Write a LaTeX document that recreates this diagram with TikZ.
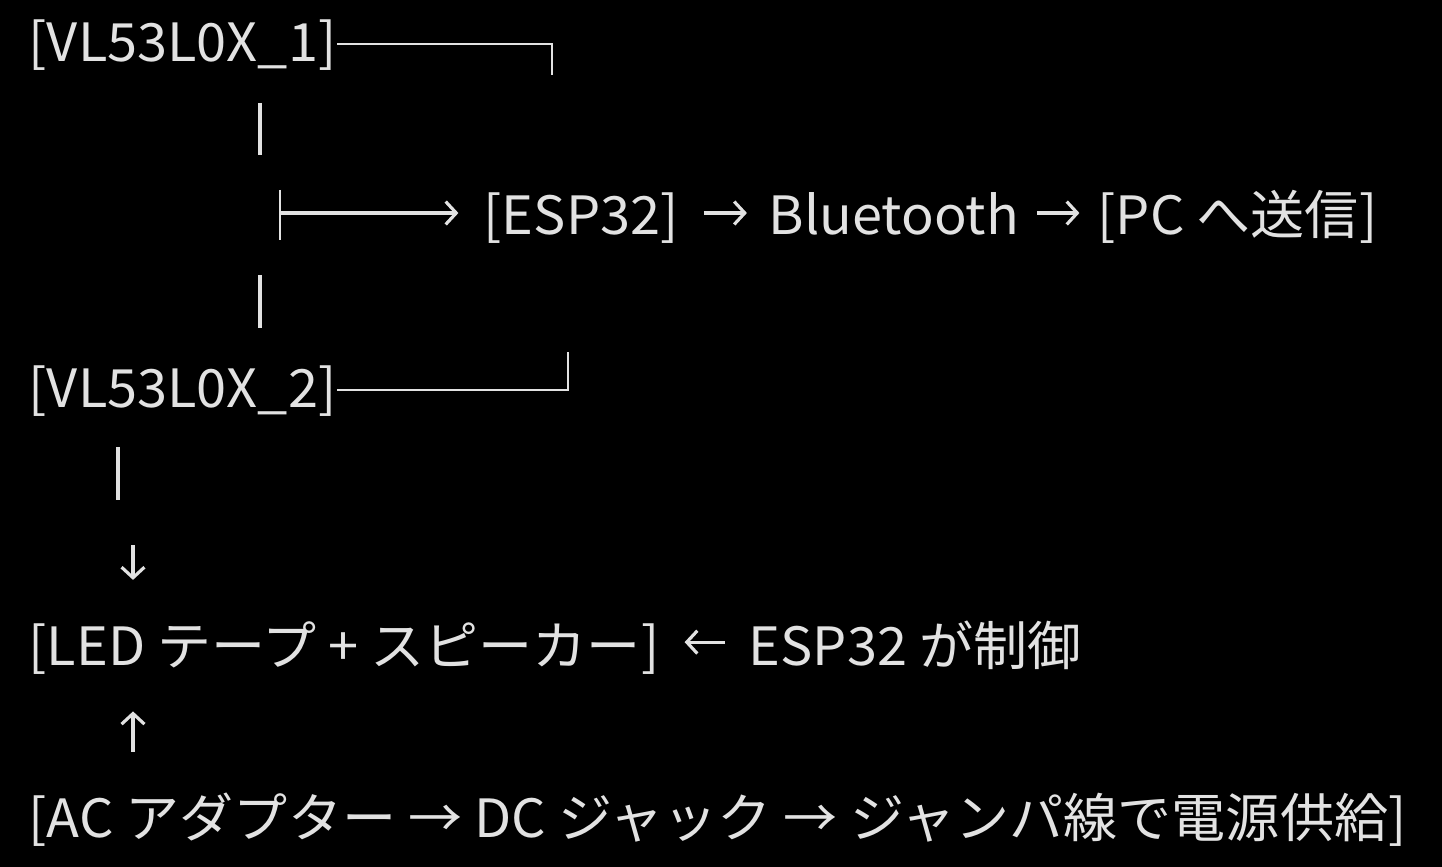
\documentclass[tikz,border=0pt]{standalone}
\usepackage{fontspec}
\setmainfont[FakeStretch=1.025]{Noto Sans CJK JP}
\usetikzlibrary{arrows.meta}
\definecolor{ink}{RGB}{226,226,226}
\tikzset{
  lbl/.style={anchor=base west, inner sep=0pt, text height=13pt, text depth=0pt,
    text=ink, font=\fontsize{15}{18}\selectfont},
  wire/.style={draw=ink, line width=0.6pt},
  bar/.style={draw=ink, line width=0.9pt},
  arr/.style={draw=ink, line width=0.9pt, -{Straight Barb[length=3pt,width=6.5pt]}},
}

\begin{document}
\begin{tikzpicture}[x=0.01cm, y=-0.01cm]
  \fill[black] (0,0) rectangle (1442,867);
  % sensors
  \node[lbl] (s1) at (28,62) {[VL53L0X\_1]};
  \node[lbl] (s2) at (28,407) {[VL53L0X\_2]};
  % top line
  \node[lbl] (esp) at (483,235) {[ESP32]};
  \node[lbl] (bt) at (768,235) {Bluetooth};
  \node[lbl] (pc) at (1097,235) {[PC へ送信]};
  % lower lines
  \node[lbl] (led) at (28,665) {[LED テープ + スピーカー]};
  \node[lbl] (ctl) at (748,665) {ESP32 が制御};
  \node[lbl] (pwr) at (28,837) {[AC アダプター → DC ジャック → ジャンパ線で電源供給]};

  \coordinate (c1) at (552,44);
  \coordinate (c2) at (568,390);
  \coordinate (t) at (280,213);
  \coordinate (d) at (133,545);
  \draw[wire] (s1.east |- c1) -- (c1) -- ++(0,31);
  \draw[wire] (s2.east |- c2) -- (c2) -- ++(0,-38);
  \draw[bar] (260,103) -- (260,155);
  \draw[bar] (260,275) -- (260,328);
  \draw[wire] (280,190) -- (280,240);
  \draw[arr, shorten >=7pt] (t) -- (t -| esp.west);
  \draw[arr, shorten <=7pt, shorten >=6pt] (esp.east |- t) -- (bt.west |- t);
  \draw[arr, shorten <=5pt, shorten >=5pt] (bt.east |- t) -- (pc.west |- t);
  \draw[bar] (118,447) -- (118,500);
  \draw[arr, shorten >=11pt] (d) -- (d |- led.north);
  \draw[arr, shorten <=6.5pt, shorten >=7pt] (ctl.west) -- (led.east);
  \draw[arr, shorten <=11pt, shorten >=13pt] (d |- pwr.north) -- (d |- led.south);
\end{tikzpicture}
\end{document}
